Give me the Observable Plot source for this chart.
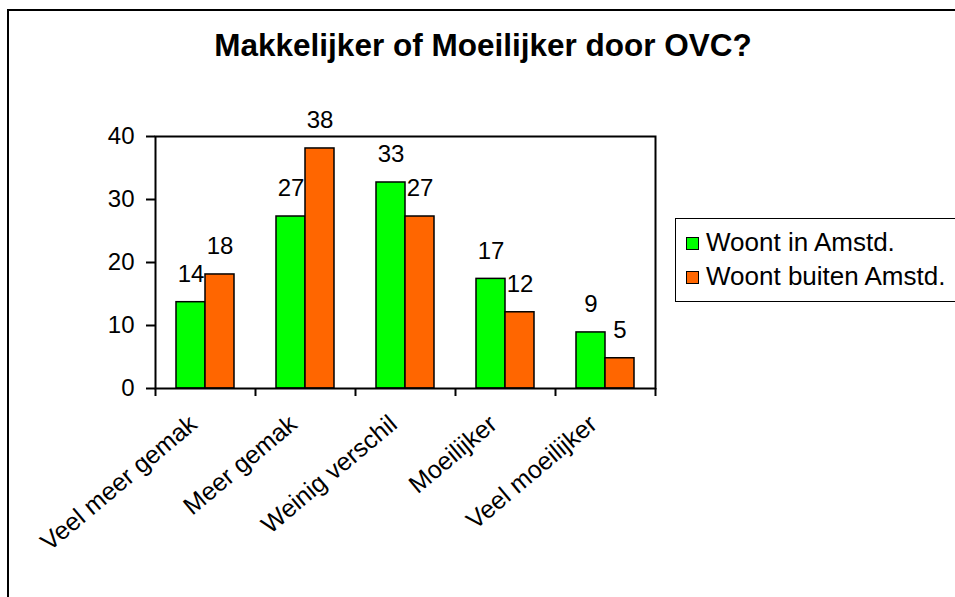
<!DOCTYPE html>
<html>
<head>
<meta charset="utf-8">
<script src="https://cdn.jsdelivr.net/npm/d3@7"></script>
<script src="https://cdn.jsdelivr.net/npm/@observablehq/plot@0.6"></script>
<style>
  html, body { margin: 0; padding: 0; background: #fff; }
  #wrap { position: relative; width: 955px; height: 597px; overflow: hidden; font-family: "Liberation Sans", Arial, sans-serif; }
  #border { position: absolute; left: 7px; top: 9px; width: 1000px; height: 700px; border-left: 2px solid #000; border-top: 2px solid #000; }
  #title { position: absolute; left: 0; top: 27px; width: 966px; text-align: center; font-weight: bold; font-size: 31.5px; line-height: 36px; color: #000; }
  #chart { position: absolute; left: 0; top: 0; }
  #legend { position: absolute; left: 675px; top: 218px; width: 320px; height: 84px; border: 1.5px solid #000; box-sizing: border-box; }
  .item { position: absolute; left: 10px; font-size: 26px; line-height: 30px; color: #000; white-space: nowrap; }
  .sw { display: inline-block; width: 13px; height: 13px; border: 1.5px solid #000; box-sizing: border-box; margin-right: 7px; vertical-align: 1px; }
</style>
</head>
<body>
<div id="wrap">
  <div id="border"></div>
  <div id="title"></div>
  <div id="chart"></div>
  <div id="legend"></div>
</div>
<script>
const title = "Makkelijker of Moeilijker door OVC?";
const categories = ["Veel meer gemak", "Meer gemak", "Weinig verschil", "Moeilijker", "Veel moeilijker"];
const series = ["Woont in Amstd.", "Woont buiten Amstd."];
const colors = ["#00ff00", "#ff6600"];
const inAmstd = [13.7, 27.3, 32.7, 17.4, 8.9];
const buitenAmstd = [18.1, 38.1, 27.3, 12.1, 4.8];
const labelsIn = ["14", "27", "33", "17", "9"];
const labelsBuiten = ["18", "38", "27", "12", "5"];
const yTicks = [0, 10, 20, 30, 40];

const data = categories.flatMap((c, i) => [
  {category: c, series: series[0], value: inAmstd[i], label: labelsIn[i]},
  {category: c, series: series[1], value: buitenAmstd[i], label: labelsBuiten[i]}
]);

document.getElementById("title").textContent = title;

const W = 955, H = 597, mL = 155, mR = 300, mT = 136, mB = 209;
const halfBand = (W - mL - mR) / categories.length / 2;

const chart = Plot.plot({
  width: W, height: H,
  marginLeft: mL, marginRight: mR, marginTop: mT, marginBottom: mB,
  style: {fontFamily: "'Liberation Sans', Arial, sans-serif", fontSize: "24px", color: "#000", background: "transparent", overflow: "visible"},
  fx: {domain: categories, padding: 0, label: null},
  x: {domain: series, paddingInner: 0, paddingOuter: 0.724, axis: null},
  y: {domain: [0, 40], label: null},
  color: {domain: series, range: colors},
  marks: [
    Plot.barY(data, {fx: "category", x: "series", y: "value", fill: "series", stroke: "#000", strokeWidth: 1.5}),
    Plot.text(data, {fx: "category", x: "series", y: "value", text: "label", dy: -28, fontSize: 24, fill: "#000"}),
    Plot.frame({facet: "super", stroke: "#000", strokeWidth: 2}),
    Plot.axisY({ticks: yTicks, tickSize: 9, tickPadding: 12, fontSize: 24, label: null, strokeWidth: 2}),
    Plot.axisFx({anchor: "bottom", tickSize: 0, tickRotate: -40, tickPadding: 32, dx: -12, fontSize: 25, label: null}),
    Plot.axisFx({anchor: "bottom", tickSize: 8, tickFormat: () => "", dx: -halfBand, label: null, strokeWidth: 2}),
    Plot.axisFx({anchor: "bottom", ticks: [categories[categories.length - 1]], tickSize: 8, tickFormat: () => "", dx: halfBand, label: null, strokeWidth: 2})
  ]
});
document.getElementById("chart").appendChild(chart);

const legend = document.getElementById("legend");
series.forEach((s, i) => {
  const d = document.createElement("div");
  d.className = "item";
  d.style.top = (8 + i * 34) + "px";
  const sw = document.createElement("span");
  sw.className = "sw";
  sw.style.background = colors[i];
  d.appendChild(sw);
  d.appendChild(document.createTextNode(s));
  legend.appendChild(d);
});
</script>
</body>
</html>
